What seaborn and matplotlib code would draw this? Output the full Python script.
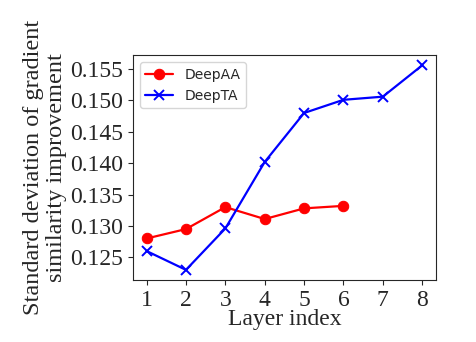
import numpy as np
import pandas as pd
import matplotlib
matplotlib.use("Agg")
import matplotlib.pyplot as plt
import seaborn as sns

# Values
layers_aa = [1, 2, 3, 4, 5, 6]
deepaa = [0.1280, 0.1295, 0.1330, 0.1311, 0.1328, 0.1332]
layers_ta = [1, 2, 3, 4, 5, 6, 7, 8]
deepta = [0.1260, 0.1230, 0.1296, 0.1402, 0.1480, 0.1501, 0.1506, 0.1556]

df = pd.concat([
    pd.DataFrame({"layer": layers_aa, "std": deepaa, "method": "DeepAA"}),
    pd.DataFrame({"layer": layers_ta, "std": deepta, "method": "DeepTA"}),
])

sns.set_style("ticks")
plt.rcParams['font.family'] = ['DejaVu Sans']

fig = plt.figure(figsize=(4.76, 3.42), dpi=100)
ax = fig.add_axes([0.279, 0.181, 0.637, 0.658])

sns.lineplot(data=df, x="layer", y="std", hue="method", style="method",
             markers={"DeepAA": "o", "DeepTA": "X"}, dashes=False,
             palette={"DeepAA": "red", "DeepTA": "blue"},
             linewidth=1.6, markersize=7.5, ax=ax)
# seaborn's X marker is filled; swap to a plain 'x' for DeepTA
for line in ax.get_lines():
    if line.get_color() == "blue":
        line.set_marker("x")
        line.set_markeredgewidth(1.4)
        line.set_markeredgecolor("blue")
    elif line.get_color() == "red":
        line.set_markeredgecolor("red")

ax.set_xticks(range(1, 9))
ax.set_yticks([0.125, 0.130, 0.135, 0.140, 0.145, 0.150, 0.155])
ax.set_yticklabels(["0.125", "0.130", "0.135", "0.140", "0.145", "0.150", "0.155"])
for lbl in ax.get_xticklabels() + ax.get_yticklabels():
    lbl.set_fontfamily("Liberation Serif")
    lbl.set_fontsize(17)
ax.tick_params(pad=3.5, length=3.5)

ax.set_xlabel("Layer index", fontfamily="Liberation Serif", fontsize=17, labelpad=-1)
ax.set_ylabel("Standard deviation of gradient\nsimilarity improvement",
              fontfamily="Liberation Serif", fontsize=17.5, labelpad=2,
              linespacing=1.15)

for s in ax.spines.values():
    s.set_visible(True)
    s.set_linewidth(0.8)

leg = ax.legend(loc="upper left", fontsize=10, title=None)
for h in leg.legend_handles:
    if h.get_color() == "blue":
        h.set_marker("x")
        h.set_markeredgewidth(1.4)
        h.set_markeredgecolor("blue")
    else:
        h.set_markeredgecolor("red")

fig.savefig("out.png", dpi=100)
